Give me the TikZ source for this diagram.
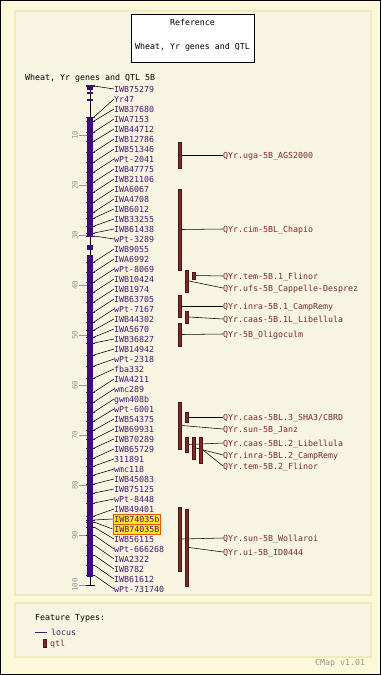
\documentclass[tikz,border=0pt]{standalone}
\usepackage{fontspec}
\setmonofont{DejaVu Sans Mono}
\usetikzlibrary{positioning, calc}
\definecolor{cream}{RGB}{251,249,218}
\definecolor{panel}{RGB}{247,245,225}
\definecolor{paneledge}{RGB}{238,236,188}
\definecolor{chrom}{RGB}{58,12,120}
\definecolor{locuscol}{RGB}{74,22,112}
\definecolor{qtlcol}{RGB}{124,42,42}
\definecolor{qtledge}{RGB}{72,20,20}
\definecolor{hilite}{RGB}{255,228,40}
\definecolor{hiedge}{RGB}{228,88,0}
\definecolor{scalegray}{RGB}{150,150,150}

\begin{document}
\begin{tikzpicture}[x=1pt,y=-1pt,
    txt/.style={font=\ttfamily\fontsize{8.3}{9}\selectfont, inner sep=0pt, anchor=west,
      text height=6.5pt, text depth=0.5pt},
    marker/.style={txt, text=locuscol},
    markerhl/.style={txt, text=locuscol, fill=hilite, draw=hiedge, line width=0.8pt,
      inner xsep=1.5pt, inner ysep=1.5pt, xshift=-1.5pt},
    qtlname/.style={txt, text=qtlcol},
    qtlbar/.style={rectangle, draw=qtledge, fill=qtlcol, line width=0.6pt,
      minimum width=3.4pt, inner sep=0pt},
    link/.style={black, line width=0.55pt},
    locustick/.style={chrom, line width=1pt},
    scaletick/.style={scalegray, line width=0.7pt},
    scalelab/.style={font=\ttfamily\fontsize{7.5}{8}\selectfont, text=scalegray, inner sep=0pt}]

    % frame and panels
    \fill[cream] (0,0) rectangle (381,675);
    \draw[black, line width=1pt] (0.5,0.5) rectangle (380.5,674.5);
    \draw[paneledge, fill=panel, line width=1.2pt] (15,11) rectangle (371,595);
    \draw[paneledge, fill=panel, line width=1.2pt] (15,603) rectangle (371,657);

    \node[draw=black, fill=white, line width=0.8pt, minimum width=123pt, minimum height=48pt,
      inner sep=0pt] (refbox) at (192.5,38) {};
    \node[txt, anchor=center] (reftitle) at (192.5,22) {Reference};
    \node[txt, anchor=center] (refname) at (192.5,46) {Wheat, Yr genes and QTL};
    \node[txt] (maptitle) at (25,77) {Wheat, Yr genes and QTL 5B};

    % scale
    \foreach \v in {10,20,...,100} {
      \draw[scaletick] (79,{85+5*\v}) -- (88,{85+5*\v});
      \node[scalelab, rotate=90] (s\v) at (75,{85+5*\v}) {\v};
    }

    % chromosome
    \draw[black, line width=0.8pt] (90,85) -- (90,585);
    \foreach \a/\b in {0/1, 1.4/1.8, 2.8/3.2, 6.6/30.4, 32/33, 34/98.4} {
      \fill[chrom] (87,{85+5*\a}) rectangle (93,{85+5*\b});
    }
    \draw[locustick] (85.5,85) -- (94.5,85);
    \draw[black, line width=1pt] (85.5,585) -- (94.5,585);

    % loci
    \foreach \name/\cm/\sty [count=\i] in {IWB75279/0.2/marker, Yr47/6.4/marker,
        IWB37680/7.2/marker, IWA7153/9.4/marker, IWB44712/11.2/marker,
        IWB12786/13.4/marker, IWB51346/15.4/marker, wPt-2041/17.4/marker,
        IWB47775/19.4/marker, IWB21106/21.4/marker, IWA6067/23.4/marker,
        IWA4708/25.4/marker, IWB6012/26.6/marker, IWB33255/28.2/marker,
        IWB61438/29.6/marker, wPt-3289/30.2/marker, IWB9055/35.4/marker,
        IWA6992/37.4/marker, wPt-8069/39.4/marker, IWB10424/41.4/marker,
        IWB1974/43.4/marker, IWB63705/45.4/marker, wPt-7167/47.4/marker,
        IWB44302/49/marker, IWA5670/50.4/marker, IWB36827/51.6/marker,
        IWB14942/54/marker, wPt-2318/56.2/marker, fba332/58.6/marker,
        IWA4211/61.4/marker, wmc289/63.4/marker, gwm408b/65.4/marker,
        wPt-6001/67.2/marker, IWB54375/69/marker, IWB69931/70.8/marker,
        IWB70289/72.6/marker, IWB65729/74.6/marker, 311891/76.2/marker,
        wmc118/78/marker, IWB45083/79.8/marker, IWB75125/81.6/marker,
        wPt-8448/83.6/marker, IWB49401/86.2/marker, IWB74035b/87/markerhl,
        IWB74035B/87.4/markerhl, IWB56115/88.4/marker, wPt-666268/90/marker,
        IWA2322/92/marker, IWB782/94/marker, IWB61612/96/marker,
        wPt-731740/98/marker} {
      \node[\sty] (m\i) at (114,{79+10*\i}) {\name};
      \draw[locustick] (85.5,{85+5*\cm}) -- (94.5,{85+5*\cm});
      \coordinate (l\i) at (94,{85+5*\cm});
      \draw[link] (l\i) -- (m\i.west);
    }

    % qtl
    \foreach \x/\a/\b/\ly/\name [count=\i] in {
        180/142/168/155/QYr.uga-5B\_AGS2000,
        180/189/270/229/QYr.cim-5BL\_Chapio,
        194/272/279/276/QYr.tem-5B.1\_Flinor,
        187/270/292/288/QYr.ufs-5B\_Cappelle-Desprez,
        180/295/317/306/QYr.inra-5B.1\_CampRemy,
        187/311/323/319/QYr.caas-5B.1L\_Libellula,
        180/323/346/334/QYr-5B\_Oligoculm,
        187/412/422/417/QYr.caas-5BL.3\_SHA3{/}CBRD,
        180/402/449/429/QYr.sun-5B\_Janz,
        187/437/452/443/QYr.caas-5BL.2\_Libellula,
        194/437/459/455/QYr.inra-5BL.2\_CampRemy,
        201/437/463/466/QYr.tem-5B.2\_Flinor,
        180/507/571/538/QYr.sun-5B\_Wollaroi,
        187/509/586/552/QYr.ui-5B\_ID0444} {
      \pgfmathsetmacro\len{\b-\a}
      \node[qtlbar, minimum height=\len pt] (q\i) at (\x,{(\a+\b)/2}) {};
      \node[qtlname] (t\i) at (223,\ly) {\name};
      \draw[link] (q\i.east) -- (t\i.west);
    }

    % legend
    \node[txt] (ftypes) at (35,617) {Feature Types:};
    \node[marker] (lglocus) at (51,632) {locus};
    \draw[locuscol, line width=1pt] ($(lglocus.west)+(-16,0)$) -- ($(lglocus.west)+(-4,0)$);
    \node[qtlbar, minimum height=8pt] (lgbar) at (44.5,643) {};
    \node[qtlname] (lgqtl) at (50,643) {qtl};
    \node[txt, text=scalegray] (version) at (315,662) {CMap v1.01};
\end{tikzpicture}
\end{document}
